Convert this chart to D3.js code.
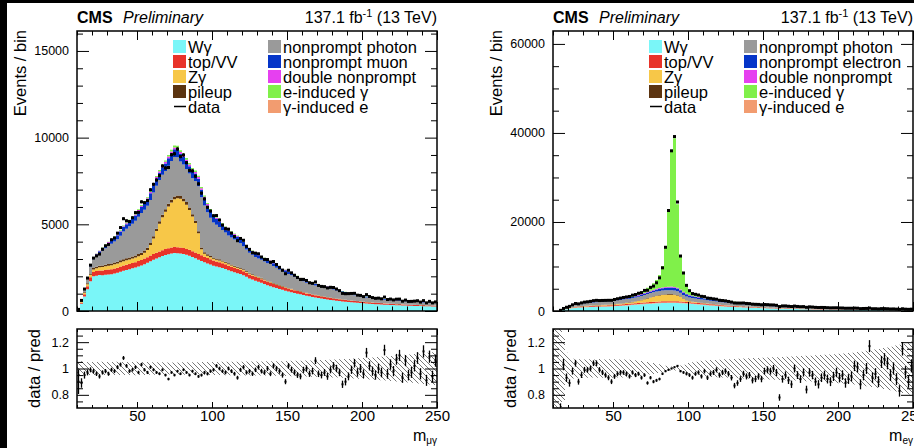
<!DOCTYPE html>
<html>
<head>
<meta charset="utf-8">
<script src="https://cdn.jsdelivr.net/npm/d3@7"></script>
<style>
  body { margin: 0; background: #000; }
  svg { display: block; }
  text { font-family: "Liberation Sans", Arial, sans-serif; fill: #000; }
</style>
</head>
<body>
<svg id="fig" width="914" height="448"></svg>
<script>
// bin edges in GeV (2 GeV bins from 10 to 250)
let edges = d3.range(10, 252, 2)

// ---- muon channel (events / bin) ----
let wgMu = [60, 420, 830, 1250, 1720, 2000, 2040, 2070, 2060, 2090,
  2110, 2120, 2160, 2200, 2270, 2320, 2370, 2410, 2460, 2510,
  2570, 2620, 2700, 2780, 2870, 2950, 3030, 3100, 3170, 3230,
  3280, 3310, 3340, 3330, 3320, 3290, 3240, 3190, 3110, 3040,
  2960, 2890, 2810, 2740, 2680, 2610, 2570, 2530, 2480, 2420,
  2350, 2290, 2230, 2180, 2130, 2060, 1970, 1880, 1810, 1740,
  1690, 1630, 1560, 1490, 1430, 1370, 1320, 1270, 1220, 1170,
  1120, 1080, 1040, 1000, 960, 920, 880, 845, 810, 780,
  750, 720, 690, 665, 640, 615, 595, 575, 555, 535,
  520, 500, 485, 470, 455, 440, 428, 416, 405, 395,
  385, 375, 366, 357, 348, 340, 333, 326, 319, 312,
  306, 300, 294, 288, 283, 278, 273, 268, 264, 260]
let topMu = [10, 60, 130, 180, 230, 250, 262, 266, 271, 274,
  281, 284, 291, 290, 296, 299, 301, 300, 306, 309,
  313, 315, 322, 324, 331, 331, 336, 337, 341, 343,
  346, 347, 351, 349, 348, 347, 342, 341, 335, 333,
  327, 323, 315, 311, 304, 299, 291, 287, 279, 275,
  267, 263, 255, 251, 243, 239, 231, 227, 219, 215,
  207, 204, 197, 194, 187, 184, 177, 174, 167, 165,
  159, 157, 151, 149, 143, 141, 135, 133, 127, 126,
  121, 120, 115, 114, 109, 108, 103, 102, 97, 96,
  91, 91, 87, 87, 83, 83, 79, 79, 75, 75,
  71, 71, 67, 67, 63, 63, 60, 61, 58, 59,
  56, 57, 54, 55, 52, 53, 50, 51, 48, 49]
let zgMu = [5, 40, 80, 110, 140, 150, 170, 190, 200, 210,
  220, 230, 240, 245, 250, 252, 255, 258, 262, 268,
  280, 300, 340, 420, 600, 900, 1250, 1600, 1900, 2150,
  2400, 2600, 2750, 2820, 2800, 2700, 2550, 2300, 2000, 1700,
  1200, 350, 180, 140, 120, 110, 100, 95, 90, 85,
  80, 76, 72, 68, 64, 60, 57, 54, 51, 48,
  45, 43, 41, 39, 37, 35, 33, 31, 30, 29,
  28, 27, 26, 25, 24, 23, 22, 21, 20, 19,
  18, 17, 16, 15, 15, 14, 14, 13, 13, 12,
  12, 11, 11, 10, 10, 9, 9, 9, 8, 8,
  8, 7, 7, 7, 7, 6, 6, 6, 6, 5,
  5, 5, 5, 5, 5, 4, 4, 4, 4, 4]
let puMu = [2, 20, 40, 60, 75, 80, 85, 90, 95, 98,
  100, 102, 104, 106, 108, 110, 112, 114, 116, 118,
  120, 122, 124, 126, 128, 130, 135, 140, 145, 150,
  155, 160, 165, 165, 162, 158, 152, 145, 138, 130,
  115, 95, 85, 80, 75, 72, 70, 67, 64, 61,
  58, 55, 52, 50, 48, 46, 44, 42, 40, 38,
  36, 34, 32, 31, 30, 29, 28, 27, 26, 25,
  24, 23, 22, 21, 20, 19, 18, 17, 16, 15,
  15, 14, 14, 13, 13, 12, 12, 11, 11, 10,
  10, 10, 9, 9, 9, 8, 8, 8, 7, 7,
  7, 7, 6, 6, 6, 6, 6, 5, 5, 5,
  5, 5, 5, 4, 4, 4, 4, 4, 4, 4]
let npgMu = [20, 120, 200, 280, 400, 500, 600, 700, 850, 950,
  1050, 1150, 1220, 1300, 1420, 1600, 1700, 1800, 1890, 2000,
  2150, 2300, 2350, 2420, 2480, 2530, 2480, 2380, 2300, 2200,
  2190, 2230, 2270, 2200, 1990, 1950, 1910, 1950, 2070, 2300,
  2600, 2900, 2700, 2420, 2200, 2010, 1940, 1870, 1760, 1680,
  1600, 1550, 1520, 1480, 1420, 1330, 1250, 1150, 1120, 1080,
  1050, 1040, 1020, 1000, 1035, 980, 930, 880, 850, 830,
  810, 780, 740, 700, 650, 610, 580, 560, 540, 530,
  525, 520, 515, 512, 510, 490, 460, 430, 400, 380,
  360, 340, 320, 300, 280, 265, 260, 250, 240, 230,
  220, 215, 210, 205, 200, 195, 190, 185, 180, 175,
  170, 168, 165, 162, 160, 158, 155, 153, 150, 148]
let nplMu = [5, 20, 40, 60, 80, 100, 115, 130, 145, 160,
  180, 200, 215, 230, 245, 260, 272, 285, 295, 305,
  320, 335, 350, 365, 380, 400, 410, 420, 430, 440,
  445, 455, 460, 455, 450, 445, 440, 430, 420, 425,
  430, 430, 420, 400, 380, 345, 330, 310, 300, 295,
  290, 280, 272, 265, 258, 245, 232, 220, 210, 200,
  190, 182, 175, 170, 168, 160, 155, 150, 142, 136,
  130, 124, 118, 112, 107, 103, 100, 96, 92, 88,
  84, 80, 78, 76, 74, 70, 66, 63, 61, 59,
  58, 55, 53, 51, 49, 47, 46, 45, 43, 42,
  40, 39, 37, 35, 34, 33, 32, 31, 30, 29,
  28, 27, 26, 25, 24, 24, 23, 22, 22, 21]
let dnpMu = [1, 4, 8, 12, 16, 20, 23, 26, 28, 30,
  32, 35, 38, 40, 43, 47, 50, 54, 58, 62,
  66, 70, 72, 75, 78, 80, 85, 90, 92, 94,
  96, 98, 100, 100, 100, 98, 96, 94, 92, 90,
  90, 90, 85, 80, 70, 60, 56, 53, 50, 47,
  45, 43, 41, 39, 37, 35, 33, 31, 30, 29,
  28, 27, 26, 25, 24, 23, 22, 21, 20, 19,
  18, 17, 16, 16, 15, 15, 14, 14, 13, 13,
  12, 12, 11, 11, 10, 10, 10, 9, 9, 9,
  8, 8, 8, 8, 7, 7, 7, 7, 6, 6,
  6, 6, 6, 6, 5, 5, 5, 5, 5, 5,
  5, 5, 4, 4, 4, 4, 4, 4, 4, 4]
let eigMu = [0, 2, 5, 8, 11, 14, 17, 20, 22, 25,
  28, 30, 32, 35, 38, 40, 42, 44, 46, 48,
  50, 52, 54, 56, 58, 60, 64, 68, 72, 78,
  85, 95, 110, 115, 108, 100, 92, 86, 82, 80,
  80, 78, 70, 62, 55, 45, 40, 36, 34, 32,
  30, 29, 28, 27, 26, 25, 24, 23, 22, 21,
  20, 19, 19, 18, 18, 17, 17, 16, 16, 15,
  15, 14, 14, 13, 13, 12, 12, 12, 11, 11,
  11, 10, 10, 10, 9, 9, 9, 9, 8, 8,
  8, 8, 7, 7, 7, 7, 7, 6, 6, 6,
  6, 6, 6, 6, 5, 5, 5, 5, 5, 5,
  5, 5, 5, 5, 4, 4, 4, 4, 4, 4]
// data / prediction and relative uncertainty of the prediction
let ratioMu = [0.90, 0.89, 0.95, 0.97, 0.99, 0.98, 0.96, 0.94, 0.97, 0.98,
  0.96, 0.99, 0.98, 1.01, 1.03, 1.08, 1.02, 0.98, 0.99, 1.01,
  0.97, 1.03, 0.99, 0.97, 1.01, 0.99, 0.97, 0.96, 0.99, 0.95,
  0.92, 0.97, 0.95, 0.98, 0.96, 0.99, 0.97, 0.95, 0.98, 0.96,
  0.94, 0.95, 0.97, 0.96, 0.98, 0.99, 1.02, 1.00, 0.98, 0.97,
  1.00, 0.98, 0.96, 0.93, 0.99, 1.01, 0.97, 0.98, 0.96, 0.99,
  1.01, 0.98, 0.97, 1.00, 0.96, 1.02, 1.00, 0.98, 0.95, 0.90,
  1.02, 0.99, 0.97, 0.95, 0.94, 0.99, 1.00, 0.96, 0.98, 1.06,
  0.96, 0.95, 0.97, 0.94, 0.99, 1.02, 1.00, 0.97, 0.88, 0.90,
  0.94, 0.99, 1.04, 0.97, 1.00, 0.96, 1.12, 1.02, 0.98, 0.95,
  1.00, 0.97, 1.14, 0.96, 1.03, 0.98, 1.07, 1.10, 0.93, 1.06,
  0.95, 0.97, 1.02, 1.08, 0.96, 1.13, 0.91, 1.09, 0.94, 1.06]
let bandMu = [0.06, 0.055, 0.052, 0.05, 0.05, 0.049, 0.05, 0.05, 0.051, 0.05,
  0.05, 0.049, 0.05, 0.051, 0.05, 0.05, 0.049, 0.05, 0.05, 0.051,
  0.05, 0.05, 0.05, 0.049, 0.048, 0.048, 0.047, 0.047, 0.047, 0.047,
  0.046, 0.046, 0.046, 0.046, 0.046, 0.047, 0.047, 0.047, 0.048, 0.048,
  0.048, 0.049, 0.05, 0.05, 0.05, 0.05, 0.05, 0.05, 0.051, 0.051,
  0.051, 0.051, 0.052, 0.052, 0.052, 0.052, 0.053, 0.053, 0.053, 0.053,
  0.054, 0.054, 0.054, 0.055, 0.055, 0.055, 0.056, 0.056, 0.056, 0.057,
  0.057, 0.058, 0.058, 0.059, 0.059, 0.06, 0.06, 0.061, 0.062, 0.062,
  0.063, 0.064, 0.065, 0.066, 0.067, 0.068, 0.069, 0.07, 0.071, 0.072,
  0.073, 0.074, 0.076, 0.077, 0.078, 0.08, 0.081, 0.083, 0.084, 0.086,
  0.087, 0.089, 0.091, 0.093, 0.095, 0.097, 0.099, 0.101, 0.103, 0.105,
  0.107, 0.109, 0.111, 0.113, 0.115, 0.117, 0.119, 0.121, 0.123, 0.125]

// ---- electron channel (events / bin) ----
let wgEl = [0, 10, 120, 260, 420, 520, 620, 700, 760, 800,
  830, 855, 880, 900, 920, 940, 960, 980, 1000, 1030,
  1060, 1100, 1140, 1190, 1240, 1290, 1340, 1390, 1440, 1490,
  1540, 1590, 1640, 1680, 1720, 1750, 1780, 1800, 1810, 1820,
  1810, 1790, 1760, 1720, 1670, 1620, 1570, 1520, 1460, 1400,
  1340, 1280, 1220, 1170, 1120, 1070, 1020, 980, 940, 910,
  880, 850, 820, 790, 760, 735, 710, 685, 660, 635,
  615, 595, 575, 555, 535, 515, 500, 485, 470, 455,
  440, 426, 413, 400, 388, 376, 365, 354, 343, 333,
  320, 312, 304, 296, 288, 280, 273, 266, 259, 252,
  246, 240, 234, 228, 222, 217, 212, 207, 202, 197,
  193, 189, 185, 181, 177, 173, 170, 167, 164, 161]
let gieEl = [0, 1, 5, 15, 25, 35, 45, 55, 62, 68,
  72, 75, 78, 80, 82, 84, 86, 88, 90, 92,
  94, 96, 98, 100, 103, 106, 109, 112, 115, 118,
  121, 124, 127, 130, 132, 134, 136, 137, 138, 139,
  138, 137, 135, 132, 129, 126, 122, 118, 114, 110,
  106, 102, 98, 94, 90, 87, 84, 81, 78, 75,
  72, 69, 66, 64, 62, 60, 58, 56, 54, 52,
  50, 48, 47, 45, 44, 42, 41, 40, 39, 38,
  37, 36, 35, 34, 33, 32, 31, 30, 29, 28,
  27, 26, 25, 25, 24, 23, 23, 22, 21, 21,
  20, 20, 19, 19, 18, 18, 17, 17, 16, 16,
  16, 15, 15, 15, 14, 14, 14, 13, 13, 13]
let topEl = [0, 2, 10, 30, 50, 70, 85, 100, 110, 120,
  130, 138, 145, 150, 155, 160, 165, 170, 175, 180,
  185, 190, 195, 200, 205, 210, 215, 220, 225, 230,
  235, 240, 245, 248, 250, 252, 254, 255, 256, 256,
  255, 253, 250, 246, 242, 237, 232, 227, 221, 215,
  209, 203, 197, 191, 185, 179, 173, 167, 161, 156,
  151, 146, 141, 137, 133, 129, 125, 121, 117, 114,
  111, 108, 105, 102, 99, 96, 93, 90, 88, 86,
  84, 82, 80, 78, 76, 74, 72, 70, 68, 66,
  64, 62, 60, 59, 58, 57, 56, 55, 54, 53,
  52, 51, 50, 49, 48, 47, 46, 45, 44, 43,
  42, 41, 40, 39, 38, 37, 36, 35, 34, 33]
let zgEl = [0, 1, 5, 15, 30, 45, 60, 75, 85, 95,
  105, 110, 115, 120, 125, 130, 135, 140, 148, 156,
  165, 175, 190, 210, 235, 270, 320, 390, 480, 590,
  720, 860, 1000, 1130, 1250, 1340, 1410, 1450, 1470, 1460,
  1400, 1280, 1000, 600, 330, 210, 160, 130, 110, 95,
  85, 78, 72, 66, 61, 56, 52, 48, 45, 42,
  39, 36, 34, 32, 30, 28, 26, 25, 24, 23,
  22, 21, 20, 19, 18, 17, 16, 15, 15, 14,
  14, 13, 13, 12, 12, 11, 11, 10, 10, 10,
  9, 9, 9, 8, 8, 8, 8, 7, 7, 7,
  7, 6, 6, 6, 6, 6, 5, 5, 5, 5,
  5, 5, 5, 4, 4, 4, 4, 4, 4, 4]
let puEl = [0, 1, 3, 8, 14, 20, 25, 28, 31, 34,
  36, 38, 40, 42, 44, 46, 48, 50, 52, 54,
  56, 58, 60, 62, 65, 68, 72, 76, 80, 85,
  90, 95, 100, 105, 110, 114, 117, 119, 120, 120,
  118, 112, 100, 85, 72, 64, 58, 54, 50, 47,
  44, 42, 40, 38, 36, 34, 32, 31, 30, 29,
  28, 27, 26, 25, 24, 23, 22, 21, 20, 19,
  18, 17, 17, 16, 16, 15, 15, 14, 14, 13,
  13, 12, 12, 11, 11, 11, 10, 10, 10, 9,
  9, 9, 8, 8, 8, 8, 7, 7, 7, 7,
  6, 6, 6, 6, 6, 5, 5, 5, 5, 5,
  5, 5, 4, 4, 4, 4, 4, 4, 4, 4]
let npgEl = [0, 5, 60, 160, 260, 340, 410, 460, 510, 560,
  580, 600, 620, 640, 660, 680, 700, 715, 730, 745,
  760, 775, 790, 805, 820, 835, 850, 860, 870, 880,
  890, 900, 905, 910, 910, 905, 900, 890, 880, 870,
  860, 850, 840, 830, 815, 800, 785, 770, 755, 740,
  720, 700, 680, 660, 640, 620, 600, 580, 560, 540,
  520, 505, 490, 475, 460, 445, 430, 415, 400, 390,
  382, 374, 366, 358, 350, 342, 334, 326, 318, 310,
  302, 294, 287, 280, 273, 266, 259, 252, 246, 240,
  234, 228, 222, 216, 210, 204, 198, 193, 188, 183,
  178, 173, 168, 164, 160, 156, 152, 148, 144, 140,
  137, 134, 131, 128, 125, 122, 119, 116, 113, 110]
let npeEl = [0, 1, 8, 25, 45, 60, 75, 90, 100, 110,
  118, 126, 134, 140, 146, 152, 158, 164, 170, 176,
  184, 192, 200, 210, 222, 236, 252, 270, 290, 312,
  336, 362, 390, 420, 455, 490, 525, 560, 590, 610,
  620, 610, 580, 540, 490, 440, 400, 370, 345, 325,
  305, 290, 275, 262, 250, 238, 226, 215, 205, 196,
  187, 179, 171, 164, 157, 150, 144, 138, 132, 127,
  122, 117, 113, 109, 105, 101, 97, 94, 91, 88,
  85, 82, 79, 76, 74, 72, 70, 68, 66, 64,
  62, 60, 58, 56, 55, 54, 52, 51, 50, 48,
  47, 46, 45, 44, 43, 42, 41, 40, 39, 38,
  37, 36, 35, 34, 33, 32, 31, 30, 30, 29]
let dnpEl = [0, 0, 2, 6, 10, 14, 18, 22, 25, 28,
  30, 32, 34, 36, 38, 40, 42, 44, 46, 48,
  50, 52, 55, 58, 62, 66, 70, 76, 82, 90,
  98, 108, 120, 135, 150, 165, 180, 195, 205, 210,
  208, 200, 185, 165, 140, 120, 105, 95, 88, 82,
  77, 72, 68, 64, 60, 57, 54, 51, 48, 46,
  44, 42, 40, 38, 36, 35, 34, 33, 32, 31,
  30, 29, 28, 27, 26, 25, 24, 23, 22, 21,
  20, 19, 19, 18, 18, 17, 17, 16, 16, 15,
  15, 14, 14, 13, 13, 13, 12, 12, 12, 11,
  11, 11, 10, 10, 10, 10, 9, 9, 9, 9,
  8, 8, 8, 8, 8, 7, 7, 7, 7, 7]
let eigEl = [0, 2, 10, 30, 50, 65, 80, 90, 100, 105,
  110, 115, 120, 126, 132, 140, 150, 160, 172, 185,
  200, 230, 260, 300, 340, 390, 440, 500, 570, 640,
  840, 960, 1170, 1460, 1990, 2950, 4800, 9200, 17330, 30500,
  33390, 18770, 7750, 4480, 2110, 1180, 770, 620, 560, 490,
  410, 360, 310, 270, 230, 200, 185, 175, 170, 165,
  160, 155, 150, 148, 146, 144, 142, 140, 138, 136,
  135, 132, 130, 128, 126, 124, 122, 120, 118, 116,
  114, 112, 110, 108, 106, 104, 102, 100, 98, 96,
  94, 92, 90, 88, 86, 84, 82, 80, 78, 76,
  74, 72, 70, 68, 66, 64, 62, 60, 58, 56,
  55, 54, 53, 52, 51, 50, 49, 48, 47, 46]
let ratioEl = [null, null, 0.68, 1.03, 0.93, 0.89, 0.98, 1.04, 0.90, 0.95,
  0.99, 0.99, 1.00, 1.04, 1.04, 0.99, 0.97, 0.95, 0.93, 0.90,
  0.94, 0.96, 0.97, 0.97, 0.96, 0.94, 0.97, 0.95, 0.96, 0.93,
  0.95, 0.89, 0.93, 0.90, 0.91, 0.92, 0.96, 0.98, 0.99, 1.00,
  1.01, 1.02, 0.98, 0.97, 0.96, 0.95, 0.93, 0.96, 0.97, 0.94,
  0.98, 0.93, 0.96, 0.97, 0.99, 0.95, 0.97, 0.98, 0.96, 0.93,
  0.87, 0.89, 0.92, 0.96, 0.94, 0.95, 0.91, 0.92, 0.94, 0.92,
  0.98, 0.99, 0.98, 1.00, 0.97, 0.78, 0.92, 0.95, 0.91, 0.88,
  1.00, 0.95, 0.92, 0.97, 0.84, 0.97, 0.95, 0.90, 0.88, 0.93,
  0.95, 0.92, 0.90, 0.94, 0.97, 0.93, 0.95, 0.89, 0.92, 0.94,
  1.02, 1.01, 0.88, 0.95, 1.00, 1.17, 0.93, 0.96, 0.90, 1.05,
  1.07, 1.04, 0.95, 1.00, 0.92, 0.83, 1.15, 0.97, 0.90, 1.02]
let bandEl = [0.5, 0.5, 0.4, 0.25, 0.12, 0.08, 0.075, 0.07, 0.07, 0.07,
  0.068, 0.07, 0.071, 0.069, 0.07, 0.072, 0.07, 0.069, 0.07, 0.071,
  0.07, 0.069, 0.068, 0.068, 0.067, 0.066, 0.064, 0.062, 0.06, 0.057,
  0.054, 0.05, 0.046, 0.042, 0.037, 0.032, 0.026, 0.021, 0.017, 0.015,
  0.015, 0.017, 0.022, 0.028, 0.035, 0.042, 0.048, 0.052, 0.055, 0.058,
  0.06, 0.062, 0.064, 0.065, 0.066, 0.067, 0.068, 0.07, 0.071, 0.072,
  0.073, 0.074, 0.075, 0.076, 0.077, 0.078, 0.079, 0.08, 0.08, 0.081,
  0.082, 0.083, 0.084, 0.085, 0.086, 0.087, 0.088, 0.089, 0.09, 0.091,
  0.092, 0.093, 0.094, 0.095, 0.096, 0.097, 0.098, 0.1, 0.101, 0.103,
  0.104, 0.106, 0.107, 0.109, 0.11, 0.112, 0.114, 0.116, 0.118, 0.12,
  0.122, 0.125, 0.128, 0.131, 0.134, 0.137, 0.14, 0.144, 0.148, 0.152,
  0.156, 0.16, 0.165, 0.17, 0.175, 0.18, 0.186, 0.192, 0.198, 0.205]

// ticks
let xTicks = [50, 100, 150, 200, 250]
let yTicksMu = [0, 5000, 10000, 15000]
let yTicksEl = [0, 20000, 40000, 60000]
let ratioTicks = [0.8, 1, 1.2]

let colors = {
  wg: '#7af6f8', gie: '#f29c70', top: '#e8332a', zg: '#f7c748', pu: '#5c3410',
  npg: '#9a9a9a', npl: '#0535c8', dnp: '#e640f0', eig: '#80f04a'
}

// layout
let W = 914, H = 448
let mainTop = 31, mainBot = 311, ratTop = 329, ratBot = 408, panelW = 360

let svg = d3.select('#fig')
svg.append('rect').attr('width', W).attr('height', H).attr('fill', '#000')
svg.append('rect').attr('x', 7).attr('y', 3).attr('width', W - 7).attr('height', H - 3).attr('fill', '#fff')

let defs = svg.append('defs')
defs.append('pattern').attr('id', 'hatch').attr('patternUnits', 'userSpaceOnUse')
  .attr('width', 5).attr('height', 5)
  .append('path').attr('d', 'M-1,-1L6,6M-1,4L1,6M4,-1L6,1')
  .attr('stroke', '#555').attr('stroke-width', 0.8)

drawPanel({
  id: 'mu', x0: 77, yMax: 16150, yTicks: yTicksMu, yMinor: 1000,
  layers: { wg: wgMu, top: topMu, zg: zgMu, pu: puMu, npg: npgMu, npl: nplMu, dnp: dnpMu, eig: eigMu },
  ratio: ratioMu, band: bandMu, lepton: 'muon', sub: 'μγ'
})
drawPanel({
  id: 'el', x0: 553, yMax: 62900, yTicks: yTicksEl, yMinor: 5000,
  layers: { wg: wgEl, gie: gieEl, top: topEl, zg: zgEl, pu: puEl, npg: npgEl, npl: npeEl, dnp: dnpEl, eig: eigEl },
  ratio: ratioEl, band: bandEl, lepton: 'electron', sub: 'eγ'
})

function cleanAxis(g) {
  g.select('.domain').remove()
  g.attr('font-family', null).attr('font-size', null)
  g.selectAll('line').attr('stroke', '#000')
}

function drawPanel(p) {
  let x0 = p.x0
  let x = d3.scaleLinear().domain([10, 250]).range([x0, x0 + panelW])
  let y = d3.scaleLinear().domain([0, p.yMax]).range([mainBot, mainTop])
  let yr = d3.scaleLinear().domain([0.7, 1.3]).range([ratBot, ratTop])
  let g = svg.append('g')

  defs.append('clipPath').attr('id', 'cm-' + p.id).append('rect')
    .attr('x', x0).attr('y', mainTop).attr('width', panelW).attr('height', mainBot - mainTop)
  defs.append('clipPath').attr('id', 'cr-' + p.id).append('rect')
    .attr('x', x0).attr('y', ratTop).attr('width', panelW).attr('height', ratBot - ratTop)

  // stacked histogram
  let keys = Object.keys(p.layers)
  let rows = edges.slice(0, -1).map((lo, i) => {
    let r = { lo: lo, hi: edges[i + 1] }
    keys.forEach(k => { r[k] = p.layers[k][i] })
    return r
  })
  let series = d3.stack().keys(keys)(rows)
  let total = rows.map((r, i) => series[series.length - 1][i][1])

  let area = d3.area().x(d => x(d.x)).y0(d => y(d.y0)).y1(d => y(d.y1))
  let gm = g.append('g').attr('clip-path', 'url(#cm-' + p.id + ')')
  series.forEach(s => {
    let pts = []
    s.forEach(d => {
      pts.push({ x: d.data.lo, y0: d[0], y1: d[1] })
      pts.push({ x: d.data.hi, y0: d[0], y1: d[1] })
    })
    gm.append('path').attr('d', area(pts)).attr('fill', colors[s.key])
  })

  // data points
  let pts = rows.map((r, i) => {
    if (p.ratio[i] == null) return null
    let n = p.ratio[i] * total[i]
    return { xc: (r.lo + r.hi) / 2, n: n, r: p.ratio[i], er: Math.sqrt(n) / total[i] }
  }).filter(d => d)

  gm.selectAll('line.err').data(pts).enter().append('line')
    .attr('x1', d => x(d.xc)).attr('x2', d => x(d.xc))
    .attr('y1', d => y(d.n - Math.sqrt(d.n))).attr('y2', d => y(d.n + Math.sqrt(d.n)))
    .attr('stroke', '#000').attr('stroke-width', 1)
  gm.selectAll('rect.pt').data(pts).enter().append('rect')
    .attr('x', d => x(d.xc) - 1.5).attr('y', d => y(d.n) - 1.5)
    .attr('width', 3).attr('height', 3).attr('fill', '#000')

  // ratio panel
  let gr = g.append('g').attr('clip-path', 'url(#cr-' + p.id + ')')
  let bandPts = []
  rows.forEach((r, i) => {
    bandPts.push({ x: r.lo, y0: 1 - p.band[i], y1: 1 + p.band[i] })
    bandPts.push({ x: r.hi, y0: 1 - p.band[i], y1: 1 + p.band[i] })
  })
  let bandArea = d3.area().x(d => x(d.x)).y0(d => yr(d.y0)).y1(d => yr(d.y1))
  gr.append('path').attr('d', bandArea(bandPts)).attr('fill', 'url(#hatch)')

  gr.selectAll('line.rerr').data(pts).enter().append('line')
    .attr('x1', d => x(d.xc)).attr('x2', d => x(d.xc))
    .attr('y1', d => yr(d.r - d.er)).attr('y2', d => yr(d.r + d.er))
    .attr('stroke', '#000').attr('stroke-width', 1.3)
  gr.selectAll('rect.rpt').data(pts).enter().append('rect')
    .attr('x', d => x(d.xc) - 1).attr('y', d => yr(d.r) - 1)
    .attr('width', 2).attr('height', 2).attr('fill', '#000')

  // axes (ROOT style: inward ticks on all sides)
  let yMinor = d3.range(0, p.yMax, p.yMinor).filter(v => !p.yTicks.includes(v))
  let xMinor = d3.range(10, 251, 10).filter(v => !xTicks.includes(v))
  let rMinor = [0.75, 0.85, 0.9, 0.95, 1.05, 1.1, 1.15, 1.25]

  let a
  a = g.append('g').attr('transform', `translate(${x0},0)`)
    .call(d3.axisLeft(y).tickValues(p.yTicks).tickSize(-12).tickPadding(8).tickFormat(d3.format('d')))
  cleanAxis(a)
  a.selectAll('text').attr('font-size', 12.5)
  a = g.append('g').attr('transform', `translate(${x0},0)`)
    .call(d3.axisLeft(y).tickValues(yMinor).tickSize(-6).tickFormat(''))
  cleanAxis(a)
  a = g.append('g').attr('transform', `translate(${x0 + panelW},0)`)
    .call(d3.axisRight(y).tickValues(p.yTicks).tickSize(-12).tickFormat(''))
  cleanAxis(a)
  a = g.append('g').attr('transform', `translate(${x0 + panelW},0)`)
    .call(d3.axisRight(y).tickValues(yMinor).tickSize(-6).tickFormat(''))
  cleanAxis(a)
  a = g.append('g').attr('transform', `translate(0,${mainBot})`)
    .call(d3.axisBottom(x).tickValues(xTicks).tickSize(-9).tickFormat(''))
  cleanAxis(a)
  a = g.append('g').attr('transform', `translate(0,${mainBot})`)
    .call(d3.axisBottom(x).tickValues(xMinor).tickSize(-4.5).tickFormat(''))
  cleanAxis(a)
  a = g.append('g').attr('transform', `translate(0,${mainTop})`)
    .call(d3.axisTop(x).tickValues(xTicks).tickSize(-9).tickFormat(''))
  cleanAxis(a)
  a = g.append('g').attr('transform', `translate(0,${mainTop})`)
    .call(d3.axisTop(x).tickValues(xMinor).tickSize(-4.5).tickFormat(''))
  cleanAxis(a)

  a = g.append('g').attr('transform', `translate(${x0},0)`)
    .call(d3.axisLeft(yr).tickValues(ratioTicks).tickSize(-12).tickPadding(8)
      .tickFormat(d => d === 1 ? '1' : d3.format('.1f')(d)))
  cleanAxis(a)
  a.selectAll('text').attr('font-size', 12.5)
  a = g.append('g').attr('transform', `translate(${x0},0)`)
    .call(d3.axisLeft(yr).tickValues(rMinor).tickSize(-6).tickFormat(''))
  cleanAxis(a)
  a = g.append('g').attr('transform', `translate(${x0 + panelW},0)`)
    .call(d3.axisRight(yr).tickValues(ratioTicks).tickSize(-12).tickFormat(''))
  cleanAxis(a)
  a = g.append('g').attr('transform', `translate(${x0 + panelW},0)`)
    .call(d3.axisRight(yr).tickValues(rMinor).tickSize(-6).tickFormat(''))
  cleanAxis(a)
  a = g.append('g').attr('transform', `translate(0,${ratBot})`)
    .call(d3.axisBottom(x).tickValues(xTicks).tickSize(-6).tickPadding(8).tickFormat(d3.format('d')))
  cleanAxis(a)
  a.selectAll('text').attr('font-size', 15).attr('y', 0).attr('dy', 13)
  a = g.append('g').attr('transform', `translate(0,${ratBot})`)
    .call(d3.axisBottom(x).tickValues(xMinor).tickSize(-3).tickFormat(''))
  cleanAxis(a)
  a = g.append('g').attr('transform', `translate(0,${ratTop})`)
    .call(d3.axisTop(x).tickValues(xTicks).tickSize(-6).tickFormat(''))
  cleanAxis(a)
  a = g.append('g').attr('transform', `translate(0,${ratTop})`)
    .call(d3.axisTop(x).tickValues(xMinor).tickSize(-3).tickFormat(''))
  cleanAxis(a)

  // frames
  g.append('rect').attr('x', x0).attr('y', mainTop).attr('width', panelW).attr('height', mainBot - mainTop)
    .attr('fill', 'none').attr('stroke', '#000').attr('stroke-width', 1.5)
  g.append('rect').attr('x', x0).attr('y', ratTop).attr('width', panelW).attr('height', ratBot - ratTop)
    .attr('fill', 'none').attr('stroke', '#000').attr('stroke-width', 1.5)

  // header
  g.append('text').attr('x', x0).attr('y', 23).attr('font-size', 16).attr('font-weight', 'bold').text('CMS')
  g.append('text').attr('x', x0 + 46).attr('y', 23).attr('font-size', 16).attr('font-style', 'italic').text('Preliminary')
  let lumi = g.append('text').attr('x', x0 + panelW).attr('y', 23).attr('font-size', 16).attr('text-anchor', 'end')
  lumi.append('tspan').text('137.1 fb')
  lumi.append('tspan').attr('font-size', 11).attr('dy', -6).text('-1')
  lumi.append('tspan').attr('dy', 6).text(' (13 TeV)')

  // axis titles
  g.append('text').attr('transform', `translate(${x0 - 51},${mainTop - 1}) rotate(-90)`)
    .attr('text-anchor', 'end').attr('font-size', 16.5).text('Events / bin')
  g.append('text').attr('transform', `translate(${x0 - 37},${(ratTop + ratBot) / 2}) rotate(-90)`)
    .attr('text-anchor', 'middle').attr('font-size', 16.5).text('data / pred')
  let xt = g.append('text').attr('x', x0 + panelW).attr('y', 441).attr('text-anchor', 'end').attr('font-size', 16)
  xt.append('tspan').text('m')
  xt.append('tspan').attr('font-size', 10).attr('dy', 3).text(p.sub)

  // legend
  let legL = [['wg', 'Wγ'], ['top', 'top/VV'], ['zg', 'Zγ'], ['pu', 'pileup'], ['data', 'data']]
  let legR = [['npg', 'nonprompt photon'], ['npl', 'nonprompt ' + p.lepton], ['dnp', 'double nonprompt'],
    ['eig', 'e-induced γ'], ['gie', 'γ-induced e']]
  let drawLeg = (items, lx) => {
    items.forEach((it, i) => {
      let cy = 46.5 + i * 15
      if (it[0] === 'data') {
        g.append('line').attr('x1', lx + 1).attr('x2', lx + 13).attr('y1', cy).attr('y2', cy)
          .attr('stroke', '#000').attr('stroke-width', 1.5)
      } else {
        g.append('rect').attr('x', lx).attr('y', cy - 6.5).attr('width', 13).attr('height', 13)
          .attr('fill', colors[it[0]])
      }
      g.append('text').attr('x', lx + 15).attr('y', cy + 6).attr('font-size', 16.5).text(it[1])
    })
  }
  drawLeg(legL, x0 + 96)
  drawLeg(legR, x0 + 191)
}
</script>
</body>
</html>
